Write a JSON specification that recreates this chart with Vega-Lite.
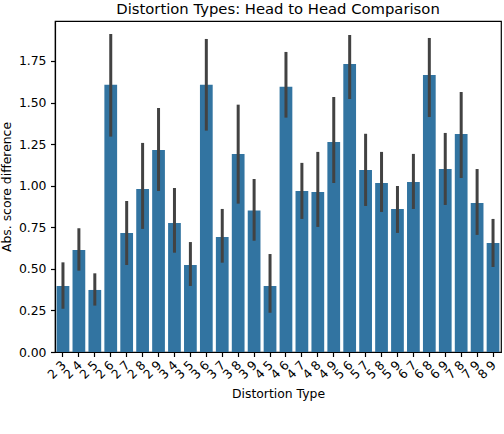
{
  "$schema": "https://vega.github.io/schema/vega-lite/v6.json",
  "autosize": {"type": "none"},
  "width": 446,
  "height": 331,
  "padding": {"left": 55, "top": 21, "right": 3, "bottom": 82},
  "background": "white",
  "title": {"text": "Distortion Types: Head to Head Comparison", "font": "DejaVu Sans", "fontSize": 14.8, "fontWeight": "normal", "color": "black", "offset": 4},
  "config": {
    "view": {"stroke": "black", "strokeWidth": 1.2},
    "axis": {"labelFont": "DejaVu Sans", "titleFont": "DejaVu Sans", "labelFontSize": 12.4, "titleFontSize": 12.4, "titleFontWeight": "normal", "labelColor": "black", "titleColor": "black", "tickColor": "black", "domainColor": "black", "tickSize": 4.5, "tickWidth": 1.2, "domainWidth": 1.2, "grid": false}
  },
  "data": {"values": [
    {"pair": "2 3", "mean": 0.397, "lo": 0.260, "hi": 0.539},
    {"pair": "2 4", "mean": 0.613, "lo": 0.489, "hi": 0.744},
    {"pair": "2 5", "mean": 0.373, "lo": 0.279, "hi": 0.473},
    {"pair": "2 6", "mean": 1.606, "lo": 1.295, "hi": 1.912},
    {"pair": "2 7", "mean": 0.716, "lo": 0.523, "hi": 0.908},
    {"pair": "2 8", "mean": 0.980, "lo": 0.740, "hi": 1.257},
    {"pair": "2 9", "mean": 1.215, "lo": 0.968, "hi": 1.467},
    {"pair": "3 4", "mean": 0.776, "lo": 0.597, "hi": 0.986},
    {"pair": "3 5", "mean": 0.523, "lo": 0.397, "hi": 0.661},
    {"pair": "3 6", "mean": 1.606, "lo": 1.331, "hi": 1.882},
    {"pair": "3 7", "mean": 0.692, "lo": 0.537, "hi": 0.860},
    {"pair": "3 8", "mean": 1.191, "lo": 0.892, "hi": 1.487},
    {"pair": "3 9", "mean": 0.850, "lo": 0.669, "hi": 1.040},
    {"pair": "4 5", "mean": 0.397, "lo": 0.236, "hi": 0.589},
    {"pair": "4 6", "mean": 1.594, "lo": 1.409, "hi": 1.804},
    {"pair": "4 7", "mean": 0.968, "lo": 0.800, "hi": 1.137},
    {"pair": "4 8", "mean": 0.962, "lo": 0.752, "hi": 1.203},
    {"pair": "4 9", "mean": 1.263, "lo": 1.016, "hi": 1.533},
    {"pair": "5 6", "mean": 1.732, "lo": 1.521, "hi": 1.906},
    {"pair": "5 7", "mean": 1.094, "lo": 0.878, "hi": 1.312},
    {"pair": "5 8", "mean": 1.016, "lo": 0.842, "hi": 1.203},
    {"pair": "5 9", "mean": 0.860, "lo": 0.716, "hi": 0.998},
    {"pair": "6 7", "mean": 1.022, "lo": 0.860, "hi": 1.191},
    {"pair": "6 8", "mean": 1.666, "lo": 1.413, "hi": 1.888},
    {"pair": "6 9", "mean": 1.100, "lo": 0.884, "hi": 1.317},
    {"pair": "7 8", "mean": 1.311, "lo": 1.046, "hi": 1.563},
    {"pair": "7 9", "mean": 0.896, "lo": 0.704, "hi": 1.100},
    {"pair": "8 9", "mean": 0.655, "lo": 0.511, "hi": 0.800}
  ]},
  "encoding": {
    "x": {
      "field": "pair",
      "type": "nominal",
      "sort": null,
      "title": "Distortion Type",
      "scale": {"paddingInner": 0.2, "paddingOuter": 0.1},
      "axis": {"labelAngle": -45, "labelAlign": "right", "labelBaseline": "middle", "labelOffset": 1, "labelPadding": 6, "titlePadding": 7}
    }
  },
  "layer": [
    {
      "mark": {"type": "bar", "color": "#3274a1"},
      "encoding": {
        "y": {
          "field": "mean",
          "type": "quantitative",
          "title": "Abs. score difference",
          "scale": {"domain": [0, 1.99], "nice": false},
          "axis": {"values": [0, 0.25, 0.5, 0.75, 1, 1.25, 1.5, 1.75], "format": ".2f", "labelPadding": 4.5, "titlePadding": 5}
        }
      }
    },
    {
      "mark": {"type": "rule", "color": "#424242", "strokeWidth": 3},
      "encoding": {
        "y": {"field": "lo", "type": "quantitative"},
        "y2": {"field": "hi"}
      }
    }
  ]
}
